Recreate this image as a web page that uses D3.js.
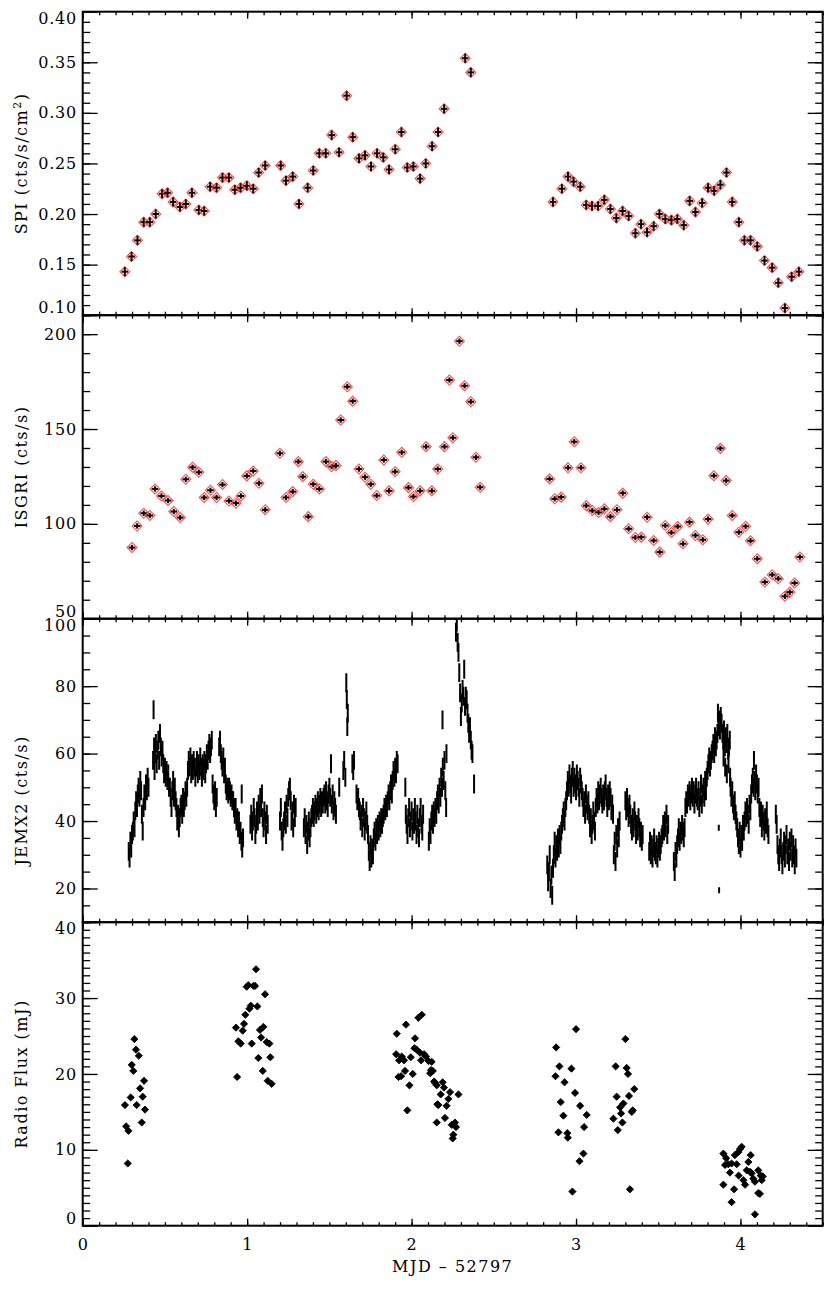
<!DOCTYPE html>
<html>
<head>
<meta charset="utf-8">
<script src="https://cdnjs.cloudflare.com/ajax/libs/d3/7.8.5/d3.min.js"></script>
<style>
  body { margin: 0; background: #fff; }
  svg text { font-family: "DejaVu Serif", serif; }
</style>
</head>
<body>
<svg width="830" height="1291"></svg>
<script>

// ---- values: [MJD - 52797, value] ----
var spiData = [
 [0.256,0.143],[0.297,0.158],[0.333,0.174],[0.371,0.192],[0.408,0.192],[0.444,0.200],[0.483,0.220],[0.516,0.221],
 [0.550,0.212],[0.591,0.207],[0.627,0.210],[0.664,0.221],[0.706,0.204],[0.739,0.203],[0.775,0.227],[0.814,0.226],
 [0.850,0.236],[0.889,0.236],[0.925,0.224],[0.960,0.226],[0.998,0.228],[1.037,0.225],[1.070,0.241],[1.110,0.248],
 [1.204,0.248],[1.236,0.233],[1.277,0.237],[1.315,0.210],[1.368,0.226],[1.402,0.243],[1.439,0.260],[1.478,0.260],
 [1.514,0.278],[1.559,0.261],[1.605,0.317],[1.642,0.276],[1.680,0.255],[1.717,0.258],[1.753,0.247],[1.790,0.260],
 [1.828,0.256],[1.863,0.244],[1.901,0.264],[1.938,0.281],[1.974,0.246],[2.011,0.247],[2.052,0.235],[2.086,0.250],
 [2.125,0.267],[2.161,0.281],[2.198,0.304],[2.326,0.354],[2.360,0.340],
 [2.860,0.212],[2.914,0.225],[2.951,0.237],[2.985,0.232],[3.026,0.227],[3.062,0.209],[3.097,0.208],[3.134,0.208],
 [3.172,0.214],[3.209,0.205],[3.245,0.196],[3.283,0.203],[3.320,0.198],[3.361,0.181],[3.395,0.190],[3.432,0.182],
 [3.472,0.188],[3.507,0.200],[3.543,0.195],[3.580,0.194],[3.616,0.195],[3.655,0.189],[3.691,0.213],[3.726,0.202],
 [3.767,0.211],[3.803,0.226],[3.840,0.223],[3.878,0.229],[3.915,0.241],[3.950,0.212],[3.990,0.192],[4.024,0.174],
 [4.061,0.174],[4.102,0.168],[4.146,0.154],[4.193,0.147],[4.230,0.132],[4.270,0.107],[4.311,0.138],[4.355,0.143]
];

var isgriData = [
 [0.300,87.5],[0.331,98.9],[0.371,105.6],[0.408,104.4],[0.440,118.4],[0.479,114.7],[0.519,112.3],[0.554,106.5],
 [0.593,103.3],[0.627,123.5],[0.668,129.8],[0.706,127.2],[0.739,113.9],[0.777,117.7],[0.814,113.9],[0.850,120.7],
 [0.889,112.1],[0.932,110.9],[0.962,114.7],[0.998,125.3],[1.037,127.9],[1.072,121.4],[1.110,107.4],[1.199,137.2],
 [1.236,113.9],[1.277,117.0],[1.311,132.8],[1.338,124.9],[1.372,103.8],[1.402,120.9],[1.439,118.4],[1.479,132.8],
 [1.514,130.2],[1.540,130.7],[1.569,154.7],[1.609,172.3],[1.642,164.7],[1.680,128.9],[1.717,124.6],[1.752,120.9],
 [1.788,114.9],[1.831,133.7],[1.863,117.4],[1.900,127.5],[1.940,137.7],[1.981,119.1],[2.011,114.4],[2.052,117.4],
 [2.088,140.7],[2.123,117.4],[2.159,128.9],[2.200,140.7],[2.230,175.8],[2.251,145.4],[2.291,196.3],[2.322,172.8],
 [2.360,164.4],[2.391,135.1],[2.417,119.3],
 [2.839,123.7],[2.870,113.2],[2.910,114.1],[2.951,129.6],[2.989,143.3],[3.030,129.6],[3.062,109.6],[3.099,107.0],
 [3.137,106.0],[3.172,107.9],[3.209,103.8],[3.249,107.4],[3.284,116.2],[3.320,97.4],[3.361,92.8],[3.397,93.0],
 [3.432,103.5],[3.472,91.2],[3.509,85.1],[3.543,99.1],[3.580,95.4],[3.618,98.6],[3.651,89.5],[3.690,100.9],
 [3.726,93.9],[3.771,91.6],[3.803,102.5],[3.838,125.4],[3.878,139.8],[3.913,122.8],[3.950,104.4],[3.990,95.6],
 [4.031,98.7],[4.061,91.1],[4.102,81.6],[4.148,69.3],[4.193,73.2],[4.230,71.1],[4.270,61.8],[4.300,64.0],
 [4.329,68.8],[4.361,82.5]
];

var jemxData = [
 [0.280,31],[0.285,29],[0.290,34],[0.295,32],[0.300,36],[0.305,37],[0.310,40],[0.315,38],[0.320,43],[0.325,46],
 [0.330,44],[0.335,48],[0.340,50],[0.345,47],[0.350,52],[0.355,49],[0.360,42],[0.365,37],[0.370,44],[0.375,48],
 [0.380,46],[0.385,51],[0.390,49],[0.395,53],[0.400,50],
 [0.428,58],[0.431,73],[0.434,62],[0.437,55],[0.440,60],[0.445,63],[0.450,57],[0.455,61],[0.460,64],[0.465,58],
 [0.470,66],[0.475,62],[0.480,59],[0.485,61],[0.490,57],[0.495,54],[0.500,56],[0.505,53],[0.510,55],[0.515,52],
 [0.520,54],[0.525,50],[0.530,50],[0.535,47],[0.540,44],[0.545,49],[0.550,52],[0.555,47],[0.560,50],[0.565,46],
 [0.570,44],[0.575,40],[0.580,42],[0.585,38],[0.590,41],[0.595,44],[0.600,45],[0.605,42],[0.610,47],[0.615,44],
 [0.620,46],[0.625,49],[0.630,47],[0.635,50],[0.640,55],[0.645,58],[0.650,56],[0.655,59],[0.660,54],[0.665,57],
 [0.670,55],[0.675,58],[0.680,56],[0.685,53],[0.690,56],[0.695,58],[0.700,54],[0.705,57],[0.710,55],[0.715,59],
 [0.720,56],[0.725,53],[0.730,57],[0.735,55],[0.740,58],[0.745,54],[0.750,57],[0.755,60],[0.760,58],[0.765,61],
 [0.770,63],[0.775,60],[0.780,62],[0.785,64],[0.790,51],[0.795,48],[0.800,46],[0.805,49],[0.810,44],[0.815,47],
 [0.830,62],[0.835,64],[0.840,60],[0.845,58],[0.850,56],[0.855,59],[0.860,54],[0.865,56],[0.870,51],[0.875,49],
 [0.880,50],[0.885,48],[0.890,50],[0.895,49],[0.900,47],[0.905,48],[0.910,46],[0.915,46],[0.920,44],[0.925,42],
 [0.930,44],[0.935,40],[0.940,41],[0.945,38],[0.950,40],[0.955,36],[0.960,37],[0.965,34],[0.967,48],[0.970,32],
 [0.975,35],
 [1.020,39],[1.025,42],[1.030,37],[1.035,40],[1.040,44],[1.045,41],[1.050,36],[1.055,39],[1.060,43],[1.065,40],
 [1.070,45],[1.075,42],[1.080,47],[1.085,44],[1.090,48],[1.095,41],[1.100,38],[1.105,43],[1.110,40],[1.115,36],
 [1.120,42],[1.125,39],
 [1.200,40],[1.205,44],[1.210,37],[1.215,34],[1.220,38],[1.225,40],[1.230,43],[1.235,39],[1.240,45],[1.245,41],
 [1.250,47],[1.255,49],[1.260,50],[1.265,46],[1.270,40],[1.275,43],[1.280,38],[1.285,45],[1.290,41],[1.295,44],
 [1.345,38],[1.350,41],[1.355,36],[1.360,39],[1.365,33],[1.370,37],[1.375,40],[1.380,35],[1.385,38],[1.390,41],
 [1.395,42],[1.400,44],[1.405,41],[1.410,43],[1.415,45],[1.420,42],[1.425,44],[1.430,46],[1.435,43],[1.440,45],
 [1.445,47],[1.450,44],[1.455,46],[1.460,45],[1.465,47],[1.470,48],[1.475,45],[1.480,49],[1.485,46],[1.490,44],
 [1.495,48],[1.500,50],[1.505,47],[1.510,57],[1.515,45],[1.520,48],[1.525,43],[1.530,46],[1.535,44],[1.540,42],
 [1.560,50],[1.585,55],[1.590,58],[1.597,53],[1.603,81],[1.606,76],[1.609,68],[1.612,72],[1.640,57],[1.645,55],
 [1.650,58],
 [1.665,48],[1.670,46],[1.675,47],[1.680,44],[1.685,43],[1.690,40],[1.695,42],[1.700,38],[1.705,44],[1.710,41],
 [1.715,37],[1.720,40],[1.725,43],[1.730,39],[1.735,36],[1.740,31],[1.745,28],[1.750,33],[1.755,29],[1.760,32],
 [1.765,30],[1.770,35],[1.775,37],[1.780,34],[1.785,38],[1.790,36],[1.795,39],[1.800,37],[1.805,40],[1.810,38],
 [1.815,41],[1.820,39],[1.825,41],[1.830,42],[1.835,44],[1.840,43],[1.845,45],[1.850,44],[1.855,46],[1.860,48],
 [1.865,46],[1.870,49],[1.875,51],[1.880,48],[1.885,52],[1.890,55],[1.895,53],[1.900,56],[1.905,54],[1.910,58],
 [1.915,57],
 [1.962,50],[1.965,42],[1.970,39],[1.975,36],[1.980,41],[1.985,44],[1.990,38],[1.995,40],[2.000,43],[2.005,37],
 [2.010,41],[2.015,39],[2.020,44],[2.025,40],[2.030,36],[2.035,42],[2.040,38],[2.045,35],[2.050,41],[2.055,44],
 [2.060,39],[2.065,37],[2.070,42],
 [2.105,34],[2.110,38],[2.115,36],[2.120,40],[2.125,42],[2.130,39],[2.135,43],[2.140,41],[2.145,44],[2.150,42],
 [2.155,46],[2.160,48],[2.165,45],[2.170,50],[2.175,47],[2.180,53],[2.185,50],[2.188,70],[2.190,56],[2.195,52],
 [2.200,58],[2.205,49],[2.210,44],[2.212,60],
 [2.270,96],[2.275,99],[2.280,93],[2.285,90],[2.290,84],[2.295,78],[2.300,71],[2.305,75],[2.310,79],[2.315,77],
 [2.320,85],[2.325,74],[2.330,77],[2.335,76],[2.340,72],[2.345,69],[2.350,66],[2.355,68],[2.360,64],[2.365,61],
 [2.370,60],[2.380,51],
 [2.825,27],[2.830,22],[2.835,25],[2.840,30],[2.845,20],[2.850,24],[2.855,18],[2.860,26],[2.865,30],[2.870,34],
 [2.875,29],[2.880,33],[2.885,31],[2.890,35],[2.895,32],[2.900,36],[2.905,33],[2.910,37],[2.915,39],[2.920,41],
 [2.925,43],[2.930,40],[2.935,44],[2.940,46],[2.945,49],[2.950,52],[2.955,50],[2.960,54],[2.965,51],[2.970,48],
 [2.975,53],[2.980,55],[2.985,50],[2.990,53],[2.995,51],[3.000,49],[3.005,54],[3.010,52],[3.015,50],[3.020,47],
 [3.025,53],[3.030,51],[3.035,49],[3.040,47],[3.045,44],[3.050,46],[3.055,42],[3.060,48],[3.065,45],[3.070,43],
 [3.075,46],[3.080,42],[3.085,38],[3.090,41],[3.095,36],[3.100,39],[3.105,43],[3.110,40],[3.115,37],[3.120,44],
 [3.125,47],[3.130,45],[3.135,49],[3.140,46],[3.145,48],[3.150,50],[3.155,47],[3.160,45],[3.165,48],[3.170,46],
 [3.175,49],[3.180,51],[3.185,47],[3.190,44],[3.195,48],[3.200,46],[3.205,49],[3.210,47],[3.215,43],[3.220,45],
 [3.225,42],[3.230,30],[3.235,34],[3.240,28],[3.245,36],[3.250,32],[3.255,38],[3.260,35],[3.265,40],
 [3.300,46],[3.305,43],[3.310,47],[3.315,44],[3.320,41],[3.325,45],[3.330,42],[3.335,39],[3.340,37],[3.345,41],
 [3.350,38],[3.355,43],[3.360,40],[3.365,36],[3.370,39],[3.375,37],[3.380,41],[3.385,38],[3.390,35],[3.395,37],
 [3.400,34],[3.405,36],
 [3.445,31],[3.450,34],[3.455,30],[3.460,33],[3.465,29],[3.470,32],[3.475,35],[3.480,31],[3.485,30],[3.490,33],
 [3.495,29],[3.500,32],[3.505,34],[3.510,31],[3.515,33],[3.520,35],[3.525,36],[3.530,39],[3.535,37],[3.540,40],
 [3.545,38],[3.550,42],[3.555,36],[3.560,39],
 [3.595,28],[3.600,25],[3.605,31],[3.610,29],[3.615,33],[3.620,35],[3.625,38],[3.630,34],[3.635,37],[3.640,36],
 [3.645,39],[3.650,37],[3.655,35],[3.660,38],[3.665,44],[3.670,46],[3.675,45],[3.680,48],[3.685,47],[3.690,49],
 [3.695,46],[3.700,48],[3.705,50],[3.710,47],[3.715,49],[3.720,45],[3.725,48],[3.730,50],[3.735,47],[3.740,46],
 [3.745,49],[3.750,44],[3.755,47],[3.760,51],[3.765,45],[3.770,48],[3.775,50],[3.780,47],[3.785,52],[3.790,49],
 [3.795,53],[3.800,55],[3.805,57],[3.810,59],[3.815,56],[3.820,58],[3.825,60],[3.830,61],[3.835,63],[3.840,60],
 [3.845,65],[3.850,62],[3.855,64],[3.860,66],[3.863,72],[3.866,68],[3.870,70],[3.875,67],[3.880,71],[3.885,69],
 [3.890,66],[3.895,64],[3.897,59],[3.900,67],[3.905,62],[3.907,56],[3.910,65],[3.915,63],[3.917,54],[3.920,66],
 [3.925,61],[3.927,57],[3.930,62],[3.935,64],[3.937,53],[3.940,50],[3.945,47],[3.950,49],[3.955,45],[3.960,43],
 [3.965,46],[3.970,42],[3.975,40],[3.980,38],[3.985,35],[3.990,33],[3.995,37],[4.000,32],[4.005,36],[4.010,34],
 [4.015,39],[4.020,37],[4.025,40],[4.030,43],[4.035,41],[4.040,44],[4.045,42],[4.050,39],[4.055,45],[4.060,43],
 [4.065,48],[4.070,51],[4.075,53],[4.080,50],[4.082,58],[4.085,52],[4.090,49],[4.095,54],[4.100,51],[4.105,48],
 [4.110,50],[4.115,44],[4.120,41],[4.125,43],[4.130,38],[4.135,42],[4.140,40],[4.145,37],[4.150,41],[4.155,39],
 [4.160,43],[4.165,38],[4.170,36],
 [4.215,42],[4.220,39],[4.225,33],[4.230,30],[4.235,28],[4.240,32],[4.245,35],[4.250,30],[4.255,27],[4.260,31],
 [4.265,34],[4.270,29],[4.275,33],[4.280,36],[4.285,30],[4.290,32],[4.295,28],[4.300,34],[4.305,31],[4.310,35],
 [4.315,29],[4.320,33],[4.325,30],[4.330,27],[4.335,32],[4.340,29]
];
// two isolated short JEMX2 points
var jemxSingles = [[3.868,38],[3.870,19.5]];

var radioData = [
 [0.257,15.9],[0.264,13.1],[0.278,12.5],[0.274,8.2],[0.292,16.9],[0.298,21.2],[0.308,20.4],[0.314,24.6],
 [0.324,23.2],[0.328,15.9],[0.341,22.4],[0.349,18.1],[0.359,13.6],[0.365,17.0],[0.373,19.1],[0.379,15.3],
 [0.932,26.1],[0.939,19.6],[0.947,24.3],[0.961,24.0],[0.973,25.7],[0.981,26.6],[0.989,27.8],[0.997,31.5],
 [1.007,31.7],[1.014,28.6],[1.022,29.0],[1.028,24.0],[1.038,31.6],[1.048,31.6],[1.054,33.8],[1.062,28.9],
 [1.068,22.1],[1.078,25.8],[1.085,24.8],[1.095,20.4],[1.099,26.2],[1.109,30.5],[1.119,24.2],[1.125,19.1],
 [1.135,24.0],[1.141,22.2],[1.149,18.7],
 [1.906,22.6],[1.910,25.3],[1.920,19.6],[1.924,21.8],[1.936,19.7],[1.940,22.3],[1.954,21.8],[1.960,20.4],
 [1.966,26.5],[1.974,15.2],[1.987,18.5],[1.995,22.2],[2.007,20.0],[2.017,23.4],[2.021,24.7],[2.031,23.2],
 [2.041,27.4],[2.051,22.8],[2.058,21.8],[2.062,27.8],[2.076,22.6],[2.088,22.3],[2.103,21.7],[2.113,20.1],
 [2.118,20.5],[2.122,21.6],[2.129,20.4],[2.137,19.0],[2.143,18.8],[2.153,18.5],[2.157,16.0],[2.153,13.6],
 [2.163,15.9],[2.177,17.3],[2.189,18.9],[2.197,18.2],[2.203,14.2],[2.213,15.8],[2.224,16.7],[2.234,17.6],
 [2.244,13.3],[2.250,11.5],[2.254,12.0],[2.264,13.6],[2.270,13.0],[2.285,17.3],
 [2.875,19.7],[2.879,23.5],[2.893,12.3],[2.899,21.0],[2.907,16.3],[2.923,14.5],[2.930,18.9],[2.947,12.2],
 [2.950,11.6],[2.972,20.7],[2.978,4.5],[2.994,17.5],[3.000,25.9],[3.021,8.5],[3.025,15.8],[3.045,9.5],
 [3.049,13.0],[3.065,14.6],
 [3.227,14.1],[3.241,21.0],[3.247,17.0],[3.254,12.6],[3.268,15.6],[3.274,14.8],[3.282,13.6],[3.288,16.1],
 [3.300,24.6],[3.308,20.8],[3.316,20.0],[3.322,17.1],[3.328,4.8],[3.339,15.0],[3.345,15.2],[3.354,18.0],
 [3.896,9.5],[3.896,5.4],[3.906,8.0],[3.913,8.9],[3.926,8.1],[3.936,7.0],[3.946,8.2],[3.946,3.1],
 [3.961,4.8],[3.966,9.3],[3.977,8.1],[3.987,9.7],[3.989,6.6],[3.997,10.1],[4.007,10.4],[4.018,6.0],
 [4.028,5.4],[4.038,7.3],[4.048,8.4],[4.058,7.1],[4.062,9.3],[4.068,6.9],[4.078,6.2],[4.088,5.8],
 [4.088,1.5],[4.108,7.3],[4.108,4.3],[4.118,4.2],[4.123,6.6],[4.129,6.0],[4.135,6.5]
];

// error bar half sizes [time, value]
var spiErr = [0.02, 0.0045];
var isgriErr = [0.02, 1.4];
var jemxErr = 2.8;
var jemxSingleErr = 0.9;

// axes
var xDomain = [0, 4.5];
var xMajor = [0, 1, 2, 3, 4];
var xMinor = d3.range(0, 46).map(function(i){ return i / 10; });

var spiDomain = [0.10, 0.40];
var spiMajor = [0.10, 0.15, 0.20, 0.25, 0.30, 0.35, 0.40];
var spiMinor = d3.range(10, 41).map(function(i){ return i / 100; });

var isgriDomain = [50, 210];
var isgriMajor = [50, 100, 150, 200];
var isgriMinor = d3.range(50, 211, 10);

var jemxDomain = [10, 100];
var jemxMajor = [20, 40, 60, 80, 100];
var jemxMinor = d3.range(10, 101, 5);

var radioDomain = [0, 40];
var radioMajor = [0, 10, 20, 30, 40];
var radioMinor = d3.range(0, 41, 1);

var titles = ["SPI (cts/s/cm", "ISGRI (cts/s)", "JEMX2 (cts/s)", "Radio Flux (mJ)"];
var xTitle = "MJD \u2013 52797";

var panels = [
  {domain: spiDomain, major: spiMajor, minor: spiMinor, fmt: d3.format(".2f"), title: titles[0], tmid: 0},
  {domain: isgriDomain, major: isgriMajor, minor: isgriMinor, fmt: d3.format("d"), title: titles[1], tmid: 0},
  {domain: jemxDomain, major: jemxMajor, minor: jemxMinor, fmt: d3.format("d"), title: titles[2], tmid: 30},
  {domain: radioDomain, major: radioMajor, minor: radioMinor, fmt: d3.format("d"), title: titles[3], tmid: 0}
];

var svg = d3.select("svg");
var left = 82.7, right = 822.7, top0 = 11.7, ph = 303.5;
var fontFam = "DejaVu Serif, serif";

var x = d3.scaleLinear().domain(xDomain).range([left, right]);

function styleAxis(g) {
  g.select(".domain").remove();
  g.selectAll("line").attr("stroke", "#000").attr("stroke-width", 1.3);
  g.attr("font-family", fontFam).attr("font-size", 16);
  g.selectAll("text").attr("fill", "#000").style("letter-spacing", "0.8px");
}

panels.forEach(function(p, i) {
  var y0 = top0 + i * ph, y1 = y0 + ph;
  var y = d3.scaleLinear().domain(p.domain).range([y1, y0]);
  p.y = y; p.y0 = y0; p.y1 = y1;
  var g = svg.append("g").attr("class", "panel");

  // y minor ticks, left and right
  g.append("g").attr("transform", "translate(" + left + ",0)")
    .call(d3.axisLeft(y).tickValues(p.minor).tickSize(-7.5).tickFormat(""))
    .call(styleAxis);
  g.append("g").attr("transform", "translate(" + right + ",0)")
    .call(d3.axisRight(y).tickValues(p.minor).tickSize(-7.5).tickFormat(""))
    .call(styleAxis);

  // y major ticks with labels
  var ya = g.append("g").attr("transform", "translate(" + left + ",0)")
    .call(d3.axisLeft(y).tickValues(p.major).tickSize(-15).tickPadding(5.7).tickFormat(p.fmt))
    .call(styleAxis);
  // end labels sit inside the frame
  ya.selectAll("text").attr("transform", function(d) {
    if (Math.abs(d - p.domain[1]) < 1e-9) return "translate(0,6.5)";
    if (Math.abs(d - p.domain[0]) < 1e-9) return "translate(0,-7.5)";
    return null;
  });
  g.append("g").attr("transform", "translate(" + right + ",0)")
    .call(d3.axisRight(y).tickValues(p.major).tickSize(-15).tickFormat(""))
    .call(styleAxis);

  // x ticks at top and bottom of each panel
  g.append("g").attr("transform", "translate(0," + y0 + ")")
    .call(d3.axisTop(x).tickValues(xMinor).tickSize(-3.5).tickFormat(""))
    .call(styleAxis);
  g.append("g").attr("transform", "translate(0," + y0 + ")")
    .call(d3.axisTop(x).tickValues(xMajor).tickSize(-7).tickFormat(""))
    .call(styleAxis);
  g.append("g").attr("transform", "translate(0," + y1 + ")")
    .call(d3.axisBottom(x).tickValues(xMinor).tickSize(-3.5).tickFormat(""))
    .call(styleAxis);
  g.append("g").attr("transform", "translate(0," + y1 + ")")
    .call(d3.axisBottom(x).tickValues(xMajor).tickSize(-7).tickPadding(13)
      .tickFormat(i === panels.length - 1 ? d3.format("d") : ""))
    .call(styleAxis);

  // frame
  g.append("rect")
    .attr("x", left).attr("y", y0)
    .attr("width", right - left).attr("height", ph)
    .attr("fill", "none").attr("stroke", "#000").attr("stroke-width", 2);

  // y title
  var t = svg.append("text")
    .attr("transform", "translate(27," + ((y0 + y1) / 2 + p.tmid) + ") rotate(-90)")
    .attr("text-anchor", "middle")
    .attr("font-family", fontFam)
    .attr("font-size", 16)
    .style("letter-spacing", "1.5px")
    .text(p.title);
  if (i === 0) {
    t.append("tspan").attr("dy", -6).attr("font-size", 11).text("2");
    t.append("tspan").attr("dy", 6).text(")");
  }
});

// x title
svg.append("text")
  .attr("x", (left + right) / 2)
  .attr("y", 1272)
  .attr("text-anchor", "middle")
  .attr("font-family", fontFam)
  .attr("font-size", 16)
  .style("letter-spacing", "1.5px")
  .text(xTitle);

// ---- marks ----
var diamond = d3.symbol().type(d3.symbolSquare).size(50);
var diamondSmall = d3.symbol().type(d3.symbolSquare).size(26);

// points with red diamond + black cross (SPI, ISGRI)
function crossPoints(data, p, err) {
  var y = p.y;
  var g = svg.append("g");
  var pt = g.selectAll("g.pt")
    .data(data)
    .enter().append("g")
      .attr("class", "pt");
  pt.append("path")
    .attr("d", diamond)
    .attr("transform", function(d) { return "translate(" + x(d[0]) + "," + y(d[1]) + ") rotate(45)"; })
    .attr("fill", "none")
    .attr("stroke", "#ff3030")
    .attr("stroke-opacity", 0.85)
    .attr("stroke-width", 1.1);
  pt.append("line")
    .attr("x1", function(d) { return x(d[0] - err[0]); })
    .attr("x2", function(d) { return x(d[0] + err[0]); })
    .attr("y1", function(d) { return y(d[1]); })
    .attr("y2", function(d) { return y(d[1]); })
    .attr("stroke", "#000").attr("stroke-width", 2);
  pt.append("line")
    .attr("x1", function(d) { return x(d[0]); })
    .attr("x2", function(d) { return x(d[0]); })
    .attr("y1", function(d) { return y(d[1] - err[1]); })
    .attr("y2", function(d) { return y(d[1] + err[1]); })
    .attr("stroke", "#000").attr("stroke-width", 2);
}

crossPoints(spiData, panels[0], spiErr);
crossPoints(isgriData, panels[1], isgriErr);

// JEMX2 light curve as vertical error bars
var pj = panels[2];
svg.append("clipPath").attr("id", "clipJ")
  .append("rect").attr("x", left).attr("y", pj.y0).attr("width", right - left).attr("height", ph);

var jg = svg.append("g").attr("clip-path", "url(#clipJ)");
jg.selectAll("line.jemx")
  .data(jemxData)
  .enter().append("line")
    .attr("class", "jemx")
    .attr("x1", function(d) { return x(d[0]); })
    .attr("x2", function(d) { return x(d[0]); })
    .attr("y1", function(d) { return pj.y(d[1] - jemxErr); })
    .attr("y2", function(d) { return pj.y(d[1] + jemxErr); })
    .attr("stroke", "#000").attr("stroke-width", 2);
jg.selectAll("line.single")
  .data(jemxSingles)
  .enter().append("line")
    .attr("class", "single")
    .attr("x1", function(d) { return x(d[0]); })
    .attr("x2", function(d) { return x(d[0]); })
    .attr("y1", function(d) { return pj.y(d[1] - jemxSingleErr); })
    .attr("y2", function(d) { return pj.y(d[1] + jemxSingleErr); })
    .attr("stroke", "#000").attr("stroke-width", 2);

// radio filled diamonds
var pr = panels[3];
svg.append("g").selectAll("path.radio")
  .data(radioData)
  .enter().append("path")
    .attr("class", "radio")
    .attr("d", diamondSmall)
    .attr("transform", function(d) { return "translate(" + x(d[0]) + "," + pr.y(d[1]) + ") rotate(45)"; })
    .attr("fill", "#000")
    .attr("stroke", "#000")
    .attr("stroke-width", 0.8);

</script>
</body>
</html>
